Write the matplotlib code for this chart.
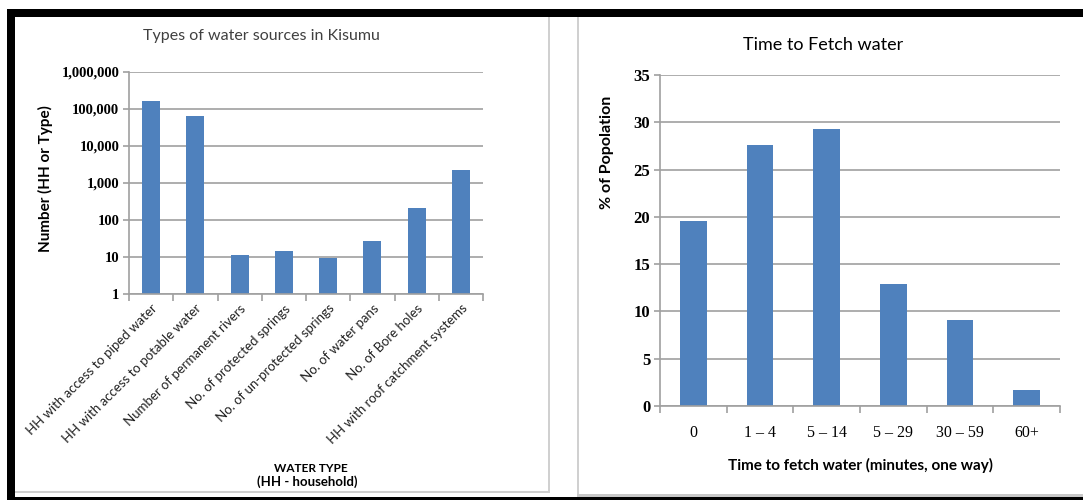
import numpy as np
import matplotlib
import matplotlib.pyplot as plt
from matplotlib.patches import Rectangle
from matplotlib.ticker import FuncFormatter, NullLocator

matplotlib.use('Agg')

# data
source_types = ['HH with access to piped water', 'HH with access to potable water',
                'Number of permanent rivers', 'No. of protected springs',
                'No. of un-protected springs', 'No. of water pans',
                'No. of Bore holes', 'HH with roof catchment systems']
source_counts = [168000, 65000, 11.3, 14.8, 9.4, 27.5, 210, 2300]

fetch_times = ['0', '1 \u2013 4', '5 \u2013 14', '5 \u2013 29', '30 \u2013 59', '60+']
fetch_pct = [19.6, 27.6, 29.3, 12.9, 9.1, 1.7]

W, H = 1083, 500
BLUE = '#4F81BD'
GRID = '#a0a0a0'
SANS = ['Lato', 'DejaVu Sans']
SERIF = ['Liberation Serif', 'DejaVu Serif']


def box(x0, y0, x1, y1):
    return [x0 / W, 1 - y1 / H, (x1 - x0) / W, (y1 - y0) / H]


def rect(x0, y0, x1, y1, color):
    fig.add_artist(Rectangle((x0 / W, 1 - y1 / H), (x1 - x0) / W, (y1 - y0) / H,
                             transform=fig.transFigure, facecolor=color, edgecolor='none'))


fig = plt.figure(figsize=(W / 100, H / 100), dpi=100)
fig.patch.set_facecolor('white')

# frame decorations
rect(7, 9, 1083, 17, 'black')
rect(7, 9, 15, 500, 'black')
rect(7, 497, 1083, 500, 'black')
rect(548, 17, 550, 493, '#d0d0d0')
rect(15, 491, 550, 493, '#d0d0d0')
rect(577, 17, 579, 497, '#d0d0d0')
rect(577, 494, 1083, 497, '#c8c8c8')


def style_axes(ax):
    for s in ['top', 'right']:
        ax.spines[s].set_visible(False)
    for s in ['left', 'bottom']:
        ax.spines[s].set_color(GRID)
        ax.spines[s].set_linewidth(1.2)
    ax.yaxis.grid(True, color=GRID, lw=1.2)
    ax.set_axisbelow(True)
    ax.tick_params(axis='y', length=4, color=GRID, width=1.2, pad=3)
    ax.tick_params(axis='x', which='major', length=0, pad=6)
    ax.tick_params(axis='x', which='minor', length=5, color=GRID, width=1.2)


# left chart: log scale counts
ax1 = fig.add_axes(box(129, 72, 483, 294))
x1 = np.arange(len(source_types))
ax1.bar(x1, source_counts, width=0.41, color=BLUE)
ax1.set_yscale('log')
ax1.set_ylim(1, 1e6)
ax1.set_xlim(-0.5, len(source_types) - 0.5)
ax1.yaxis.set_minor_locator(NullLocator())
ax1.set_yticks([1, 10, 100, 1e3, 1e4, 1e5, 1e6])
ax1.yaxis.set_major_formatter(FuncFormatter(lambda v, p: f'{int(round(v)):,}'))
style_axes(ax1)
ax1.set_xticks(x1)
ax1.set_xticks(np.arange(len(source_types) + 1) - 0.5, minor=True)
ax1.set_xticklabels(source_types, rotation=45, ha='right', rotation_mode='anchor',
                    family=SANS, fontsize=9.5, color='#222222')
for t in ax1.get_yticklabels():
    t.set_family(SERIF)
    t.set_fontweight('bold')
    t.set_fontsize(10.5)
fig.text(261 / W, 1 - 36 / H, 'Types of water sources in Kisumu', ha='center', va='center',
         family=SANS, fontsize=11.5, color='#404040')
fig.text(45 / W, 1 - 179 / H, 'Number (HH or Type)', ha='center', va='center', rotation=90,
         family=SANS, fontsize=11, fontweight='bold')
fig.text(311 / W, 1 - 468 / H, 'WATER TYPE', ha='center', va='center',
         family=SANS, fontsize=8.5, fontweight='bold')
fig.text(307 / W, 1 - 482 / H, '(HH - household)', ha='center', va='center',
         family=SANS, fontsize=9.5, fontweight='bold')

# right chart: time to fetch water
ax2 = fig.add_axes(box(660, 75, 1060, 406))
x2 = np.arange(len(fetch_times))
ax2.bar(x2, fetch_pct, width=0.4, color=BLUE)
ax2.set_ylim(0, 35)
ax2.set_xlim(-0.5, len(fetch_times) - 0.5)
ax2.set_yticks(range(0, 36, 5))
style_axes(ax2)
ax2.tick_params(axis='x', which='major', pad=14)
ax2.set_xticks(x2)
ax2.set_xticks(np.arange(len(fetch_times) + 1) - 0.5, minor=True)
ax2.set_xticklabels(fetch_times, family=SERIF, fontsize=11.5)
for t in ax2.get_yticklabels():
    t.set_family(SERIF)
    t.set_fontweight('bold')
    t.set_fontsize(12)
fig.text(823 / W, 1 - 45 / H, 'Time to Fetch water', ha='center', va='center',
         family=SANS, fontsize=13)
fig.text(607 / W, 1 - 152 / H, '% of Popolation', ha='center', va='center', rotation=90,
         family=SANS, fontsize=11.5, fontweight='bold')
fig.text(860 / W, 1 - 465 / H, 'Time to fetch water (minutes, one way)', ha='center', va='center',
         family=SANS, fontsize=11, fontweight='bold')

fig.savefig('out.png', dpi=100)
